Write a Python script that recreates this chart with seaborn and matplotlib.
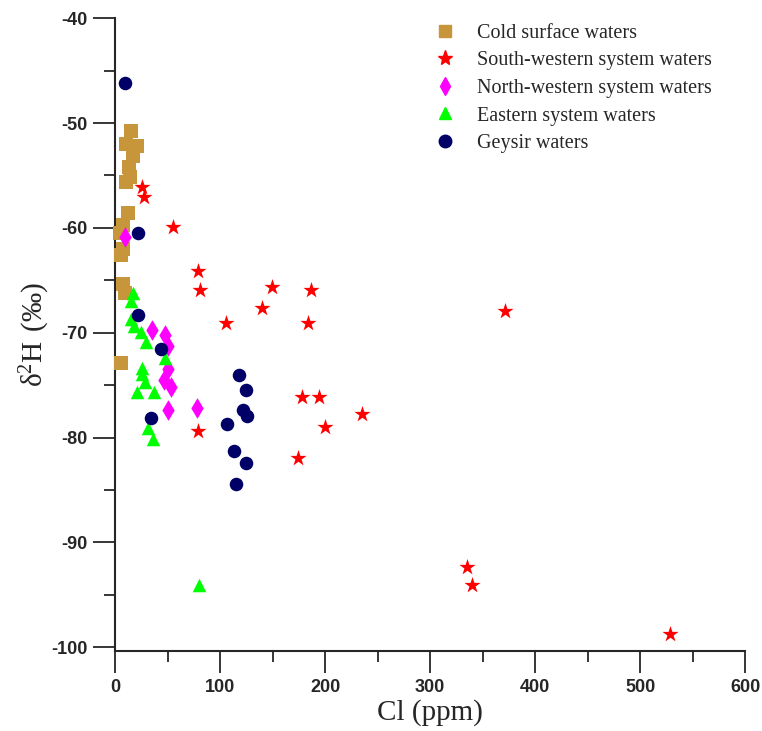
import numpy as np
import pandas as pd
import matplotlib
matplotlib.use("Agg")
import matplotlib.pyplot as plt
import seaborn as sns
from matplotlib.lines import Line2D

# ---- data ----
cold_cl = [15, 10, 21, 17, 13, 14, 10, 12, 8, 5, 8, 6, 8, 9, 5.5]
cold_h = [-50.8, -52.0, -52.2, -53.1, -54.2, -55.1, -55.6, -58.6, -59.7, -60.5,
          -62.0, -62.6, -65.4, -66.2, -72.9]

sw_cl = [26, 28, 55, 79, 81, 149, 187, 140, 106, 184, 371, 178, 194, 235, 200,
         79, 174, 335, 340, 528]
sw_h = [-56.1, -57.1, -59.9, -64.1, -65.9, -65.6, -65.9, -67.6, -69.1, -69.1,
        -67.9, -76.1, -76.1, -77.8, -79.0, -79.4, -82.0, -92.4, -94.1, -98.7]

nw_cl = [9.5, 35, 48, 50, 50, 47, 53, 50, 78]
nw_h = [-60.9, -69.7, -70.2, -71.3, -73.5, -74.5, -75.2, -77.4, -77.2]

east_cl = [16.8, 15.2, 15, 18, 24.5, 29.5, 47.6, 26, 25.4, 28.6, 20.6, 37, 31, 36, 80]
east_h = [-66.2, -67.0, -68.7, -69.4, -69.9, -70.9, -72.4, -73.4, -73.9, -74.7,
          -75.7, -75.7, -79.1, -80.1, -94.1]

gey_cl = [9, 22, 22, 43.5, 34.5, 118, 125, 122, 126, 107, 113, 125, 115]
gey_h = [-46.2, -60.5, -68.3, -71.55, -78.1, -74.0, -75.5, -77.4, -77.9, -78.7,
         -81.3, -82.4, -84.4]

groups = ["Cold surface waters", "South-western system waters",
          "North-western system waters", "Eastern system waters", "Geysir waters"]
xticks = [0, 100, 200, 300, 400, 500, 600]
yticks = [-40, -50, -60, -70, -80, -90, -100]

frames = []
for g, xs, ys in zip(groups, [cold_cl, sw_cl, nw_cl, east_cl, gey_cl],
                     [cold_h, sw_h, nw_h, east_h, gey_h]):
    frames.append(pd.DataFrame({"Cl": xs, "d2H": ys, "group": g}))
df = pd.concat(frames, ignore_index=True)

colors = {groups[0]: "#C8963A", groups[1]: "#FF0000", groups[2]: "#FF00FF",
          groups[3]: "#00FF00", groups[4]: "#000066"}
markers = {groups[0]: "s", groups[1]: "*", groups[2]: "d", groups[3]: "^", groups[4]: "o"}
msize = {groups[0]: 100, groups[1]: 150, groups[2]: 110, groups[3]: 95, groups[4]: 95}

sns.set_style("ticks")
plt.rcParams["font.family"] = ["Liberation Sans", "DejaVu Sans"]
plt.rcParams["axes.unicode_minus"] = False

fig = plt.figure(figsize=(7.62, 7.31), dpi=100)
ax = fig.add_axes([0.151, 0.109, 0.827, 0.866])

for g in groups:
    sub = df[df["group"] == g]
    sns.scatterplot(data=sub, x="Cl", y="d2H", ax=ax, color=colors[g],
                    marker=markers[g], s=msize[g], linewidth=0, legend=False,
                    clip_on=False, zorder=3)

ax.set_xlim(0, 600)
ax.set_ylim(-100.4, -40)
ax.set_xticks(xticks)
ax.set_yticks(yticks)
ax.set_xticks([50, 150, 250, 350, 450, 550], minor=True)
ax.set_yticks([-45, -55, -65, -75, -85, -95], minor=True)
ax.tick_params(which="major", direction="out", length=16, width=1.3, pad=4,
               labelsize=13)
ax.tick_params(which="minor", direction="out", length=8, width=1.3)
for lab in ax.get_xticklabels() + ax.get_yticklabels():
    lab.set_fontweight("bold")
for s in ["top", "right"]:
    ax.spines[s].set_visible(False)
for s in ["left", "bottom"]:
    ax.spines[s].set_linewidth(1.5)

ax.set_xlabel("Cl (ppm)", family=["Liberation Serif"], fontsize=21, labelpad=2)
ax.set_ylabel(r"$\mathregular{\delta^2H\ (‰)}$", family=["Liberation Serif", "DejaVu Serif"],
              fontsize=21, labelpad=-1)

handles = [Line2D([], [], linestyle="none", marker=markers[g], color=colors[g],
                  markersize=(9 if markers[g] != "*" else 11)) for g in groups]
leg = ax.legend(handles, groups, loc="upper left", bbox_to_anchor=(0.471, 1.02),
                frameon=False, prop={"family": "Liberation Serif", "size": 14.5},
                handletextpad=0.85, labelspacing=0.42, handlelength=1.5)

fig.savefig("out.png", dpi=100)
